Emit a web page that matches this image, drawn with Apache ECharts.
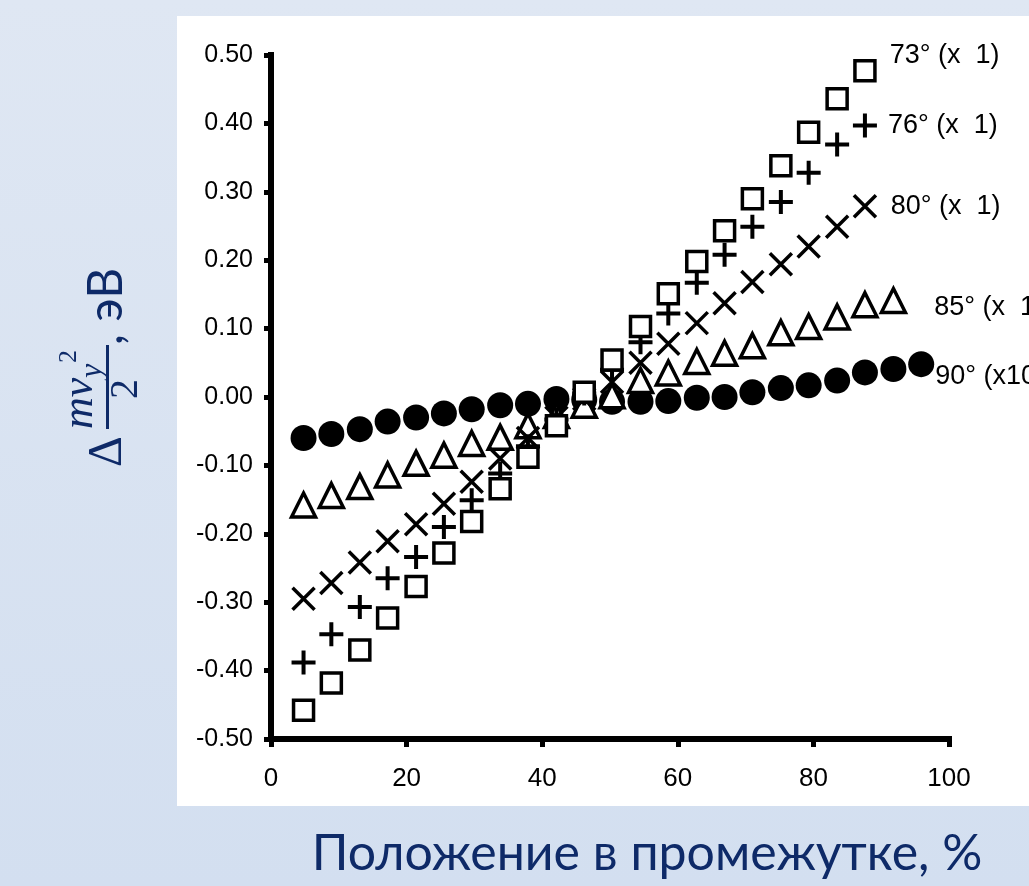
<!DOCTYPE html>
<html>
<head>
<meta charset="utf-8">
<script src="https://cdn.jsdelivr.net/npm/echarts@6/dist/echarts.min.js"></script>
<style>
html,body{margin:0;padding:0;background:#d9e3f1;}
#c{width:1029px;height:886px;}
</style>
</head>
<body>
<div id="c"></div>
<script>
// Position across the gap, %
const xPos = [4.8, 8.9, 13.1, 17.2, 21.4, 25.5, 29.6, 33.8, 37.9, 42.1, 46.2, 50.3, 54.5, 58.6, 62.8, 66.9, 71.0, 75.2, 79.3, 83.5, 87.6, 91.8, 95.9];
// Δ(m v_y^2 / 2), eV
const sq73   = [-0.458,-0.418,-0.370,-0.323,-0.277,-0.228,-0.182,-0.134,-0.088,-0.042,0.007,0.054,0.103,0.151,0.198,0.243,0.290,0.338,0.387,0.436,0.477];
const plus76 = [-0.388,-0.347,-0.307,-0.265,-0.234,-0.190,-0.151,-0.112,-0.072,-0.033,0.005,0.040,0.080,0.122,0.167,0.208,0.249,0.285,0.328,0.369,0.397];
const x80    = [-0.295,-0.272,-0.242,-0.211,-0.186,-0.156,-0.124,-0.090,-0.060,-0.030,-0.003,0.022,0.050,0.078,0.108,0.137,0.168,0.194,0.220,0.249,0.279];
const tri85  = [-0.158,-0.144,-0.131,-0.114,-0.097,-0.085,-0.068,-0.059,-0.042,-0.027,-0.012,0.002,0.024,0.035,0.052,0.064,0.075,0.094,0.103,0.117,0.135,0.141];
const dot90  = [-0.060,-0.054,-0.047,-0.036,-0.030,-0.024,-0.018,-0.012,-0.010,-0.003,-0.004,-0.007,-0.007,-0.006,-0.001,0.000,0.007,0.013,0.017,0.024,0.036,0.041,0.048];
const seriesNames = ["73° (x  1)", "76° (x  1)", "80° (x  1)", "85° (x  1)", "90° (x10)"];
const xTitle = "Положение в промежутке, %";
const yUnit = ", эВ";

const labelFont = "Liberation Sans, Arial, sans-serif";

function makeData(vals, lab) {
  return vals.map((v, i) => {
    if (i === vals.length - 1) {
      return { value: [xPos[i], v], label: Object.assign({ show: true, position: 'right', color: '#000', fontSize: 27, fontFamily: labelFont, formatter: '{a}' }, lab) };
    }
    return [xPos[i], v];
  });
}

const chart = echarts.init(document.getElementById('c'), null, { renderer: 'canvas' });

const option = {
  animation: false,
  backgroundColor: 'transparent',
  grid: { left: 271, right: 80, top: 55, bottom: 147 },
  xAxis: {
    type: 'value', min: 0, max: 100, interval: 20,
    axisLine: { show: true, onZero: false, lineStyle: { color: '#000', width: 6, cap: 'square' } },
    axisTick: { show: true, length: 8, lineStyle: { color: '#000', width: 5 } },
    axisLabel: { color: '#000', fontSize: 26, fontFamily: labelFont, margin: 27 },
    splitLine: { show: false }
  },
  yAxis: {
    type: 'value', min: -0.5, max: 0.5, interval: 0.1,
    axisLine: { show: true, onZero: false, lineStyle: { color: '#000', width: 6, cap: 'square' } },
    axisTick: { show: true, length: 7, lineStyle: { color: '#000', width: 5 } },
    axisLabel: { color: '#000', fontSize: 25, fontFamily: labelFont, margin: 18, formatter: v => v.toFixed(2) },
    splitLine: { show: false }
  },
  graphic: [
    { type: 'rect', z: -20, silent: true, shape: { x: 0, y: 0, width: 1029, height: 886 },
      style: { fill: new echarts.graphic.LinearGradient(0, 0, 0, 1, [{ offset: 0, color: '#dfe7f3' }, { offset: 1, color: '#d3dff0' }]) } },
    { type: 'rect', z: -10, silent: true, shape: { x: 177, y: 16, width: 860, height: 790 }, style: { fill: '#ffffff' } },
    { type: 'text', x: 647, y: 854, silent: true,
      style: { text: xTitle, font: '50px Lato, "Open Sans", sans-serif', fill: '#0e2a68', align: 'center', verticalAlign: 'middle', textAlign: 'center', textVerticalAlign: 'middle' } },
    { type: 'group', x: 124, y: 467, rotation: Math.PI / 2, silent: true,
      children: [
        { type: 'text', x: 0, y: -16, style: { text: 'Δ', font: '48px "Liberation Serif", serif', fill: '#0e2a68', align: 'left', verticalAlign: 'middle', textAlign: 'left', textVerticalAlign: 'middle' } },
        { type: 'text', x: 38, y: -44, style: { text: 'mv', font: 'italic 44px "Liberation Serif", serif', fill: '#0e2a68', align: 'left', verticalAlign: 'middle', textAlign: 'left', textVerticalAlign: 'middle' } },
        { type: 'text', x: 89, y: -31, style: { text: 'y', font: 'italic 32px "Liberation Serif", serif', fill: '#0e2a68', align: 'left', verticalAlign: 'middle', textAlign: 'left', textVerticalAlign: 'middle' } },
        { type: 'text', x: 104, y: -55, style: { text: '2', font: '26px "Liberation Serif", serif', fill: '#0e2a68', align: 'left', verticalAlign: 'middle', textAlign: 'left', textVerticalAlign: 'middle' } },
        { type: 'rect', shape: { x: 38, y: -18, width: 84, height: 3 }, style: { fill: '#0e2a68' } },
        { type: 'text', x: 78, y: 2, style: { text: '2', font: '40px "Liberation Serif", serif', fill: '#0e2a68', align: 'center', verticalAlign: 'middle', textAlign: 'center', textVerticalAlign: 'middle' } },
        { type: 'text', x: 122, y: -17, style: { text: yUnit, font: '48px Lato, "Open Sans", sans-serif', fill: '#0e2a68', align: 'left', verticalAlign: 'middle', textAlign: 'left', textVerticalAlign: 'middle' } }
      ]
    }
  ],
  series: [
    { name: seriesNames[4], type: 'scatter', symbol: 'circle', symbolSize: 26,
      itemStyle: { color: '#000', opacity: 1 }, data: makeData(dot90, { distance: 1, offset: [0, 12] }) },
    { name: seriesNames[3], type: 'scatter', symbol: 'triangle', symbolSize: [24, 24],
      itemStyle: { color: '#fff', borderColor: '#000', borderWidth: 3.5, opacity: 1 }, data: makeData(tri85, { distance: 27, offset: [0, 7] }) },
    { name: seriesNames[2], type: 'scatter', symbol: 'path://M0,0 L24,24 M24,0 L0,24', symbolSize: 22,
      itemStyle: { color: '#000', borderColor: '#000', borderWidth: 3.5, opacity: 1 }, data: makeData(x80, { distance: 13, offset: [0, 0] }) },
    { name: seriesNames[1], type: 'scatter', symbol: 'path://M0,12 L24,12 M12,0 L12,24', symbolSize: 24,
      itemStyle: { color: '#000', borderColor: '#000', borderWidth: 4, opacity: 1 }, data: makeData(plus76, { distance: 9, offset: [0, 0] }) },
    { name: seriesNames[0], type: 'scatter', symbol: 'rect', symbolSize: 20,
      itemStyle: { color: '#fff', borderColor: '#000', borderWidth: 3.5, opacity: 1 }, data: makeData(sq73, { distance: 13, offset: [0, -15] }) }
  ]
};
chart.setOption(option);
</script>
</body>
</html>
